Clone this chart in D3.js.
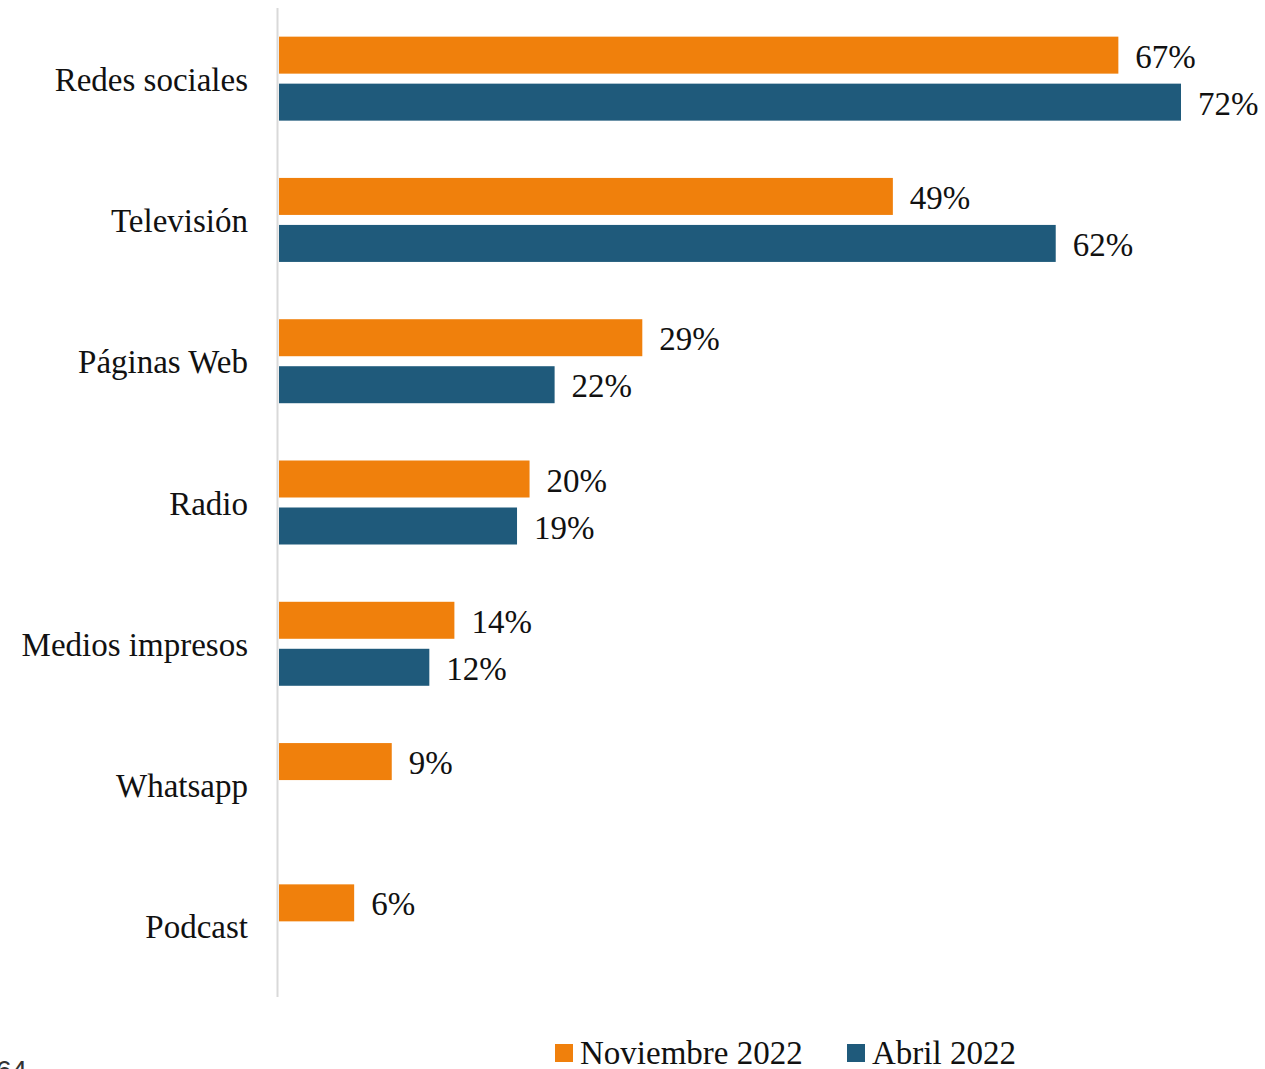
<!DOCTYPE html>
<html>
<head>
<meta charset="utf-8">
<script src="https://cdn.jsdelivr.net/npm/d3@7"></script>
<style>
  html, body { margin: 0; padding: 0; background: #fff; }
  svg { display: block; }
  text { font-family: "Liberation Serif", "Times New Roman", serif; fill: #111; }
</style>
</head>
<body>
<svg id="chart" width="1265" height="1069"></svg>
<script>
// chart data
const categories = ['Redes sociales', 'Televisión', 'Páginas Web', 'Radio', 'Medios impresos', 'Whatsapp', 'Podcast'];
const seriesNames = ['Noviembre 2022', 'Abril 2022'];
const noviembre = [67, 49, 29, 20, 14, 9, 6];
const abril = [72, 62, 22, 19, 12, null, null];
const colors = ['#F0800C', '#1F5A7B'];

const svg = d3.select('#chart');
const seriesValues = [noviembre, abril];

const x = d3.scaleLinear()
  .domain([0, 72])
  .range([279, 1181]);

const y = d3.scaleBand()
  .domain(categories)
  .range([8, 997]);

// two bars of 37px with a 10px gap
const inner = d3.scaleBand()
  .domain(seriesNames)
  .range([0, 84])
  .paddingInner(10 / 47);

const yOffset = (y.bandwidth() - 84) / 2;

// category axis line
svg.append('line')
  .attr('x1', 277.5).attr('x2', 277.5)
  .attr('y1', 8).attr('y2', 997)
  .attr('stroke', '#d9d9d9')
  .attr('stroke-width', 2);

// category labels
svg.append('g')
  .selectAll('text')
  .data(categories)
  .enter()
  .append('text')
  .attr('x', 248)
  .attr('y', d => y(d) + y.bandwidth() / 2 + 12)
  .attr('text-anchor', 'end')
  .style('font-size', '33px')
  .text(d => d);

// bars and value labels
seriesNames.forEach((name, s) => {
  const rows = categories
    .map((c, i) => ({ cat: c, value: seriesValues[s][i] }))
    .filter(d => d.value != null);

  const g = svg.append('g').attr('class', 'series');

  g.selectAll('rect')
    .data(rows)
    .enter()
    .append('rect')
    .attr('x', x(0))
    .attr('y', d => y(d.cat) + yOffset + inner(name))
    .attr('width', d => x(d.value) - x(0))
    .attr('height', inner.bandwidth())
    .style('fill', colors[s]);

  g.selectAll('text')
    .data(rows)
    .enter()
    .append('text')
    .attr('x', d => x(d.value) + 17)
    .attr('y', d => y(d.cat) + yOffset + inner(name) + inner.bandwidth() / 2 + 12.5)
    .style('font-size', '33px')
    .text(d => d.value + '%');
});

// legend
const legendX = [555, 847];
const legend = svg.append('g')
  .selectAll('g')
  .data(seriesNames)
  .enter()
  .append('g')
  .attr('transform', (d, i) => `translate(${legendX[i]},1044)`);

legend.append('rect')
  .attr('width', 18)
  .attr('height', 18)
  .style('fill', (d, i) => colors[i]);

legend.append('text')
  .attr('x', 25)
  .attr('y', 20)
  .style('font-size', '33px')
  .text(d => d);

// page number, cut off at bottom-left as in the source page
svg.append('text')
  .attr('x', -4)
  .attr('y', 1080)
  .style('font-family', '"Liberation Sans", sans-serif')
  .style('font-size', '28px')
  .style('fill', '#333')
  .text('64');
</script>
</body>
</html>
